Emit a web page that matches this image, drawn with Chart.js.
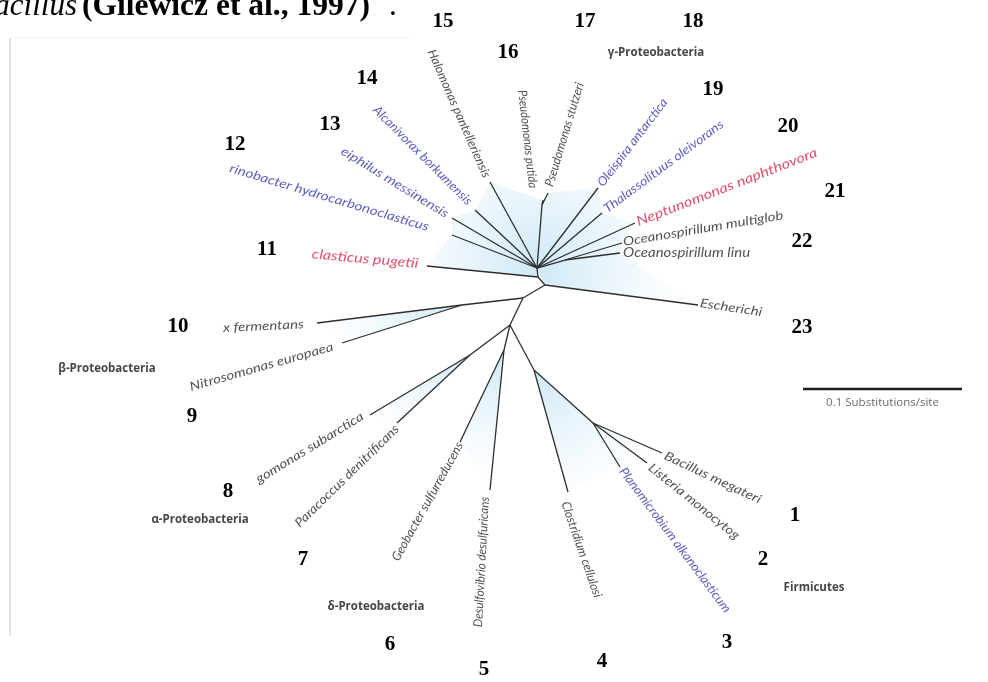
<!DOCTYPE html>
<html>
<head>
<meta charset="utf-8">
<script src="https://cdn.jsdelivr.net/npm/chart.js@4.4.1/dist/chart.umd.min.js"></script>
<style>
  html, body { margin: 0; padding: 0; background: #fff; }
  #wrap { width: 988px; height: 682px; }
</style>
</head>
<body>
<div id="wrap"><canvas id="treeChart" width="988" height="682"></canvas></div>
<script>
// 계통수 데이터 - 내부 노드 (좌표는 그림 좌표계, y는 아래로 증가)
const nodeNames  = ['gammaHub', 'cycloJoin', 'coliJoin', 'betaJoin', 'lowerHub', 'beta', 'alpha', 'delta', 'firmicutes', 'bacillales', 'pseudomonas', 'oceanospirillum'];
const nodeX      = [537, 538, 545, 523, 510, 462, 470, 504, 534, 593, 542, 565];
const nodeY      = [268, 277, 285, 298, 325, 305, 355, 350, 370, 423, 205, 260];
const nodeParent = [1, 2, 3, 4, -1, 3, 4, 4, 4, 8, 0, 0];

// 잎 노드 1..23
const leafNumbers = [1, 2, 3, 4, 5, 6, 7, 8, 9, 10, 11, 12, 13, 14, 15, 16, 17, 18, 19, 20, 21, 22, 23];
const leafLabels = [
    'Bacillus megateri', 'Listeria monocytog', 'Planomicrobium alkanoclasticum', 'Clostridium cellulosi',
    'Desulfovibrio desulfuricans', 'Geobacter sulfurreducens', 'Paracoccus denitrificans', 'gomonas subarctica',
    'Nitrosomonas europaea', 'x fermentans', 'clasticus pugetii', 'rinobacter hydrocarbonoclasticus',
    'eiphilus messinensis', 'Alcanivorax borkumensis', 'Halomonas pantelleriensis', 'Pseudomonas putida',
    'Pseudomonas stutzeri', 'Oleispira antarctica', 'Thalassolituus oleivorans', 'Neptunomonas naphthovora',
    'Oceanospirillum multiglob', 'Oceanospirillum linu', 'Escherichi'
];
const leafX      = [662, 647, 620, 568, 490, 460, 397, 370, 342, 317, 427, 452, 452, 475, 490, 543, 548, 598, 602, 635, 622, 620, 698];
const leafY      = [453, 463, 467, 492, 490, 442, 423, 415, 343, 323, 266, 235, 218, 210, 182, 200, 193, 188, 213, 223, 243, 253, 305];
const leafParent = [9, 9, 9, 8, 7, 7, 6, 6, 5, 5, 1, 0, 0, 0, 0, 10, 10, 0, 0, 0, 11, 11, 2];
const leafKind   = ['g', 'g', 'b', 'g', 'g', 'g', 'g', 'g', 'g', 'g', 'r', 'b', 'b', 'b', 'g', 'g', 'g', 'b', 'b', 'r', 'g', 'g', 'g'];

// 분류군 이름
const cladeNames = ['γ-Proteobacteria', 'β-Proteobacteria', 'α-Proteobacteria', 'δ-Proteobacteria', 'Firmicutes'];

// 축척 막대 (0.1 substitutions/site)
const scaleBarX = [803, 962];
const scaleBarY = [389, 389];
const scaleBarLabel = '0.1 Substitutions/site';

// ---- 배치 (텍스트 위치) ----
const labelStartX = [665, 650, 622, 565, 478, 395, 297, 257, 190, 223, 312, 230, 342, 375, 431, 522, 549, 600, 605, 637, 623, 623, 700];
const labelStartY = [455, 466, 469, 502, 627, 560, 525, 480, 387, 328, 254, 168, 150, 108, 50, 90, 186, 185, 210, 222, 242, 253, 303];
const labelEndX   = [767, 738, 728, 598, 485, 460, 397, 368, 338, 310, 423, 448, 448, 470, 487, 533, 580, 665, 722, 827, 802, 767, 767];
const labelEndY   = [503, 537, 611, 597, 497, 443, 427, 412, 345, 324, 264, 233, 215, 203, 177, 188, 83, 100, 123, 148, 212, 253, 313];
const numberX = [795, 763, 727, 602, 484, 390, 303, 228, 192, 178, 267, 235, 330, 367, 443, 508, 585, 693, 713, 788, 835, 802, 802];
const numberY = [516, 560, 643, 662, 670, 645, 560, 492, 417, 327, 250, 145, 125, 79, 22, 53, 22, 22, 90, 127, 192, 242, 328];
const cladeX = [656, 107, 200, 376, 814];
const cladeY = [53, 369, 520, 607, 588];

// 음영 쐐기 (노드 nX / 잎 LX)
const wedgeCentre = [0, 5, 6, 7, 8];
const wedgeOutline = [
    ['n1', 'L11', 'L12', 'L13', 'L14', 'L15', 'L16', 'L17', 'L18', 'L19', 'L20', 'L21', 'L22', 'L23', 'n2'],
    ['n5', 'L10', 'L9'],
    ['n6', 'L8', 'L7'],
    ['n7', 'L6', 'L5'],
    ['n8', 'L4', 'L3', 'L2', 'L1', 'n9']
];

const kindColor = { g: '#525252', b: '#5b5fbf', r: '#e2506e' };
const kindSize = { g: 12.5, b: 12.5, r: 13.5 };
const lineColor = '#2e2e2e';

// 가지 datasets
const datasets = [];
nodeParent.forEach((p, i) => {
    if (p < 0) return;
    datasets.push({
        data: [{ x: nodeX[p], y: nodeY[p] }, { x: nodeX[i], y: nodeY[i] }],
        showLine: true, borderColor: lineColor, borderWidth: 1.3, pointRadius: 0
    });
});
leafParent.forEach((p, i) => {
    datasets.push({
        data: [{ x: nodeX[p], y: nodeY[p] }, { x: leafX[i], y: leafY[i] }],
        showLine: true, borderColor: lineColor, borderWidth: 1.3, pointRadius: 0
    });
});
datasets.push({
    data: [{ x: scaleBarX[0], y: scaleBarY[0] }, { x: scaleBarX[1], y: scaleBarY[1] }],
    showLine: true, borderColor: '#1e1e1e', borderWidth: 2.5, pointRadius: 0
});

function refPoint(ref) {
    const i = parseInt(ref.slice(1), 10);
    return ref[0] === 'n' ? [nodeX[i], nodeY[i]] : [leafX[i - 1], leafY[i - 1]];
}

const treeDecor = {
    id: 'treeDecor',
    beforeDatasetsDraw(chart) {
        const { ctx, scales: { x, y } } = chart;
        ctx.save();
        // 왼쪽 테두리
        ctx.strokeStyle = '#e2e2e2';
        ctx.lineWidth = 2;
        ctx.beginPath();
        ctx.moveTo(x.getPixelForValue(10), y.getPixelForValue(38));
        ctx.lineTo(x.getPixelForValue(10), y.getPixelForValue(636));
        ctx.stroke();
        ctx.strokeStyle = '#f3f3f3';
        ctx.lineWidth = 1;
        ctx.beginPath();
        ctx.moveTo(x.getPixelForValue(11), y.getPixelForValue(38));
        ctx.lineTo(x.getPixelForValue(410), y.getPixelForValue(38));
        ctx.stroke();

        // 쐐기 음영
        wedgeOutline.forEach((refs, w) => {
            const cx = x.getPixelForValue(nodeX[wedgeCentre[w]]);
            const cy = y.getPixelForValue(nodeY[wedgeCentre[w]]);
            const pts = refs.map(r => { const p = refPoint(r); return [x.getPixelForValue(p[0]), y.getPixelForValue(p[1])]; });
            const rMax = Math.max(...pts.map(p => Math.hypot(p[0] - cx, p[1] - cy)));
            const g = ctx.createRadialGradient(cx, cy, 0, cx, cy, rMax);
            g.addColorStop(0, 'rgba(200,230,246,0.9)');
            g.addColorStop(0.5, 'rgba(218,238,249,0.5)');
            g.addColorStop(1, 'rgba(240,248,253,0)');
            ctx.fillStyle = g;
            ctx.beginPath();
            ctx.moveTo(cx, cy);
            pts.forEach(p => ctx.lineTo(p[0], p[1]));
            ctx.closePath();
            ctx.fill();
        });
        ctx.restore();
    },
    afterDatasetsDraw(chart) {
        const { ctx, scales: { x, y } } = chart;
        ctx.save();

        // 잎 이름: 글자 높이는 고정, 가로 폭만 맞춤
        leafLabels.forEach((txt, i) => {
            const sx = x.getPixelForValue(labelStartX[i]), sy = y.getPixelForValue(labelStartY[i]);
            const ex = x.getPixelForValue(labelEndX[i]), ey = y.getPixelForValue(labelEndY[i]);
            const len = Math.hypot(ex - sx, ey - sy);
            ctx.font = `italic ${kindSize[leafKind[i]]}px Lato`;
            const w = ctx.measureText(txt).width;
            const stretch = Math.max(0.7, Math.min(1.2, len / w));
            ctx.fillStyle = kindColor[leafKind[i]];
            ctx.textAlign = 'left';
            ctx.textBaseline = 'middle';
            ctx.save();
            ctx.translate(sx, sy);
            ctx.rotate(Math.atan2(ey - sy, ex - sx));
            ctx.scale(stretch, 1);
            ctx.fillText(txt, 0, 0);
            ctx.restore();
        });

        // 번호
        ctx.font = 'bold 21px "Liberation Serif"';
        ctx.fillStyle = '#000';
        ctx.textAlign = 'center';
        ctx.textBaseline = 'middle';
        leafNumbers.forEach((n, i) => {
            ctx.fillText(String(n), x.getPixelForValue(numberX[i]), y.getPixelForValue(numberY[i]));
        });

        // 분류군 이름
        ctx.font = 'bold 11.5px "Open Sans"';
        ctx.fillStyle = '#454545';
        cladeNames.forEach((c, i) => {
            ctx.fillText(c, x.getPixelForValue(cladeX[i]), y.getPixelForValue(cladeY[i]));
        });

        // 축척 라벨
        ctx.font = '11.5px "Open Sans"';
        ctx.fillStyle = '#6a6a6a';
        ctx.fillText(scaleBarLabel, x.getPixelForValue((scaleBarX[0] + scaleBarX[1]) / 2), y.getPixelForValue(scaleBarY[0] + 14));

        // 상단 본문 일부 (잘린 문장)
        ctx.fillStyle = '#000';
        ctx.textBaseline = 'alphabetic';
        ctx.textAlign = 'right';
        ctx.font = 'italic 31px "Liberation Serif"';
        ctx.fillText('acillus', 77, 15);
        ctx.textAlign = 'left';
        ctx.font = 'bold 31px "Liberation Serif"';
        const cap = '(Gilewicz et al., 1997)';
        const cw = ctx.measureText(cap).width;
        ctx.save();
        ctx.translate(82, 15);
        ctx.scale(288 / cw, 1);
        ctx.fillText(cap, 0, 0);
        ctx.restore();
        ctx.font = '31px "Liberation Serif"';
        ctx.fillText('.', 389, 15);
        ctx.restore();
    }
};

new Chart(document.getElementById('treeChart'), {
    type: 'scatter',
    data: { datasets },
    options: {
        responsive: false,
        animation: false,
        layout: { padding: 0 },
        plugins: { legend: { display: false }, tooltip: { enabled: false } },
        scales: {
            x: { type: 'linear', min: 0, max: 988, display: false },
            y: { type: 'linear', min: 0, max: 682, reverse: true, display: false }
        }
    },
    plugins: [treeDecor]
});
</script>
</body>
</html>
